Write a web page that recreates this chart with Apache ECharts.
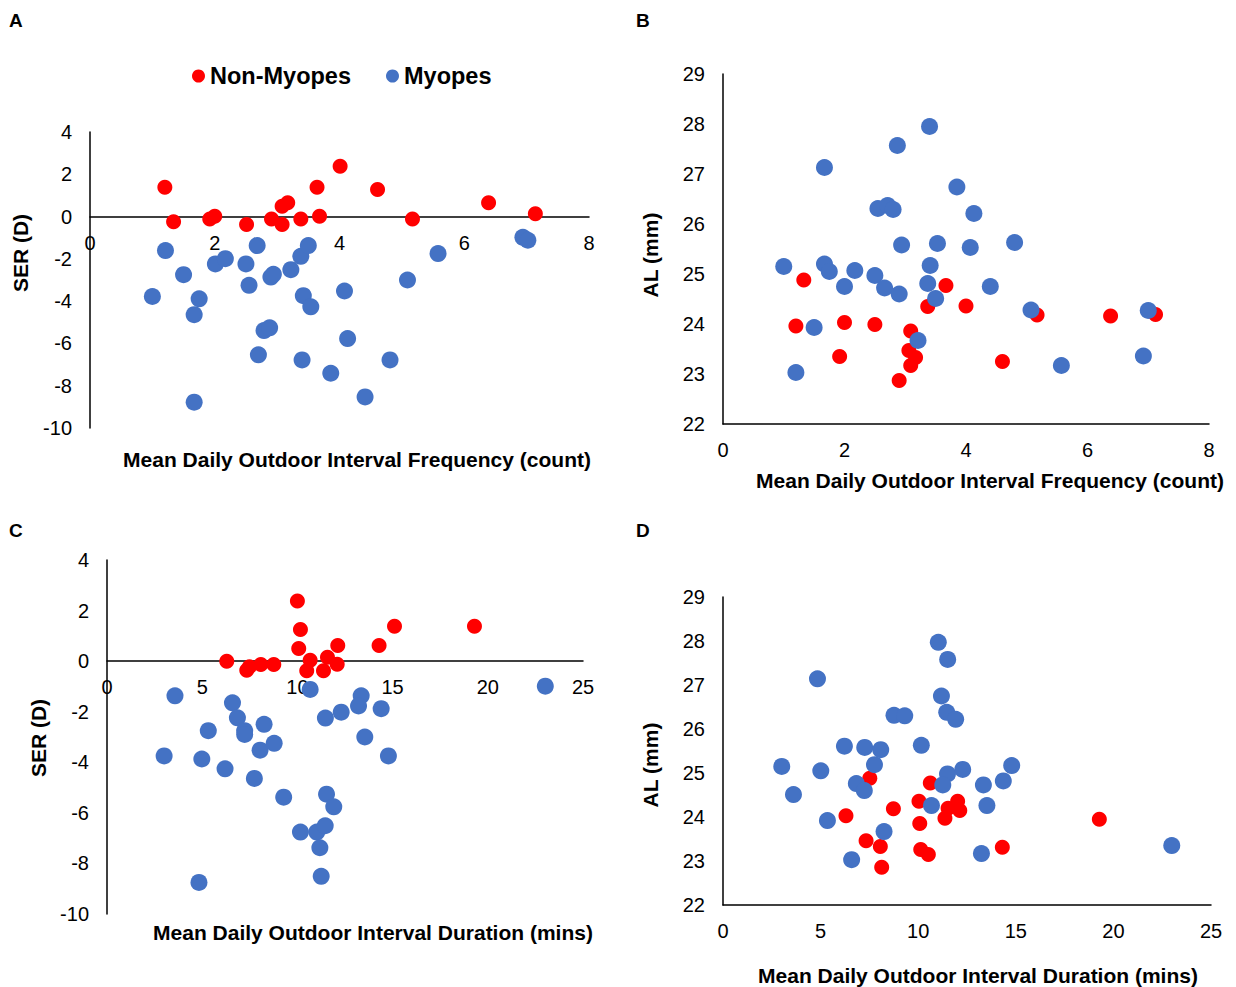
<!DOCTYPE html>
<html><head><meta charset="utf-8">
<script src="https://cdn.jsdelivr.net/npm/echarts@6/dist/echarts.min.js"></script>
<style>html,body{margin:0;padding:0;background:#fff}#c{width:1236px;height:987px}</style>
</head><body><div id="c"></div>
<script>
// Panel A: frequency vs SER
const nonMyopesFreqSER = [[1.20,1.39],[1.34,-0.25],[1.92,-0.11],[2.00,0.02],[2.51,-0.38],[2.91,-0.11],[3.08,-0.38],[3.08,0.49],[3.17,0.65],[3.38,-0.11],[3.64,1.39],[3.68,0.02],[4.01,2.38],[4.61,1.28],[5.17,-0.11],[6.39,0.65],[7.14,0.13]];
const myopesFreqSER = [[1.21,-1.61],[1.50,-2.75],[1.00,-3.78],[1.75,-3.89],[1.67,-4.64],[1.67,-8.78],[2.01,-2.24],[2.17,-1.99],[2.50,-2.24],[2.55,-3.25],[2.68,-1.37],[2.90,-2.86],[2.94,-2.73],[2.79,-5.39],[2.88,-5.26],[2.70,-6.54],[3.22,-2.51],[3.38,-1.88],[3.50,-1.37],[3.42,-3.74],[3.54,-4.27],[3.40,-6.78],[3.86,-7.41],[4.08,-3.52],[4.13,-5.77],[4.41,-8.53],[4.81,-6.78],[5.09,-3.00],[5.58,-1.75],[6.94,-0.98],[7.02,-1.12]];
// Panel B: frequency vs AL
const nonMyopesFreqAL = [[1.33,24.88],[1.20,23.96],[2.00,24.03],[2.50,23.99],[1.92,23.35],[3.09,23.86],[3.06,23.47],[3.17,23.33],[3.09,23.17],[2.90,22.87],[3.37,24.35],[3.67,24.77],[4.00,24.36],[4.60,23.25],[5.17,24.18],[6.38,24.16],[7.12,24.19]];
const myopesFreqAL = [[3.40,27.95],[2.87,27.57],[1.67,27.13],[3.85,26.74],[2.55,26.31],[2.71,26.37],[2.80,26.29],[4.13,26.21],[2.94,25.58],[3.53,25.61],[4.07,25.53],[4.80,25.63],[1.00,25.15],[1.67,25.20],[1.75,25.05],[2.17,25.07],[2.50,24.97],[2.00,24.75],[2.66,24.72],[2.90,24.60],[3.41,25.17],[3.37,24.81],[3.50,24.51],[4.40,24.75],[5.07,24.28],[7.00,24.27],[1.50,23.93],[3.21,23.67],[1.20,23.03],[5.57,23.17],[6.92,23.36]];
// Panel C: duration vs SER
const nonMyopesDurSER = [[10.00,2.38],[10.16,1.25],[10.07,0.50],[15.10,1.38],[19.30,1.38],[12.12,0.62],[14.29,0.62],[6.29,0.00],[7.34,-0.36],[7.48,-0.22],[8.08,-0.13],[8.76,-0.13],[10.67,0.04],[10.49,-0.38],[11.58,0.15],[11.37,-0.38],[12.09,-0.12]];
const myopesDurSER = [[3.57,-1.37],[10.67,-1.12],[23.02,-0.99],[6.59,-1.65],[6.85,-2.24],[7.23,-2.75],[7.23,-2.90],[8.25,-2.50],[5.32,-2.75],[3.00,-3.75],[4.98,-3.87],[6.20,-4.26],[7.74,-4.64],[8.04,-3.52],[8.78,-3.25],[9.28,-5.38],[11.47,-2.25],[12.30,-2.02],[13.35,-1.37],[13.21,-1.77],[14.40,-1.88],[13.54,-3.00],[14.78,-3.75],[11.53,-5.26],[11.91,-5.76],[10.16,-6.76],[11.02,-6.76],[11.46,-6.51],[11.18,-7.38],[11.25,-8.51],[4.83,-8.75]];
// Panel D: duration vs AL
const nonMyopesDurAL = [[7.52,24.88],[10.62,24.77],[10.04,24.36],[12.02,24.36],[11.53,24.20],[12.13,24.15],[11.37,23.97],[8.73,24.19],[6.30,24.03],[10.08,23.85],[7.33,23.46],[8.06,23.33],[10.13,23.26],[10.52,23.15],[8.13,22.86],[14.31,23.31],[19.28,23.95]];
const myopesDurAL = [[11.03,27.97],[11.51,27.58],[4.84,27.14],[11.19,26.75],[8.76,26.31],[9.31,26.30],[11.46,26.38],[11.92,26.22],[6.22,25.61],[7.26,25.58],[8.08,25.53],[10.16,25.63],[3.01,25.15],[5.01,25.05],[7.76,25.19],[11.50,24.98],[12.28,25.08],[14.79,25.17],[6.83,24.76],[7.24,24.60],[11.26,24.73],[13.34,24.73],[14.36,24.82],[3.61,24.51],[10.68,24.26],[13.52,24.26],[5.35,23.92],[8.25,23.67],[6.59,23.03],[13.24,23.17],[22.99,23.35]];

const seriesNames = ['Non-Myopes', 'Myopes'];
const panelLetters = ['A', 'B', 'C', 'D'];
const xTitles = ['Mean Daily Outdoor Interval Frequency (count)', 'Mean Daily Outdoor Interval Frequency (count)', 'Mean Daily Outdoor Interval Duration (mins)', 'Mean Daily Outdoor Interval Duration (mins)'];
const yTitles = ['SER (D)', 'AL (mm)', 'SER (D)', 'AL (mm)'];

const FONT = '"Liberation Sans", Arial, Helvetica, sans-serif';
const RED = '#FF0000', BLUE = '#4472C4';

const grids = [
  {left: 90, top: 132, width: 499, height: 296},
  {left: 723, top: 74, width: 486, height: 350},
  {left: 107, top: 560, width: 476, height: 354},
  {left: 723, top: 597, width: 488, height: 308}
];
const xRanges = [[0, 8, 2], [0, 8, 2], [0, 25, 5], [0, 25, 5]];
const yRanges = [[-10, 4, 2], [22, 29, 1], [-10, 4, 2], [22, 29, 1]];

const labelStyle = {color: '#000', fontSize: 20, fontFamily: FONT};

const xAxes = xRanges.map((r, i) => ({
  type: 'value', gridIndex: i, min: r[0], max: r[1], interval: r[2], offset: 0,
  axisLine: {show: true, onZero: false, lineStyle: {color: '#000', width: 1.5}},
  axisTick: {show: false}, splitLine: {show: false},
  axisLabel: Object.assign({margin: 16, showMinLabel: true, showMaxLabel: true}, labelStyle)
}));
const yAxes = yRanges.map((r, i) => ({
  type: 'value', gridIndex: i, min: r[0], max: r[1], interval: r[2],
  axisLine: {show: true, onZero: false, lineStyle: {color: '#000', width: 1.5}},
  axisTick: {show: false}, splitLine: {show: false},
  axisLabel: Object.assign({margin: 18}, labelStyle)
}));

const panelData = [
  [nonMyopesFreqSER, myopesFreqSER],
  [nonMyopesFreqAL, myopesFreqAL],
  [nonMyopesDurSER, myopesDurSER],
  [nonMyopesDurAL, myopesDurAL]
];
const series = [];
panelData.forEach((pair, i) => {
  series.push({name: seriesNames[0], type: 'scatter', xAxisIndex: i, yAxisIndex: i, data: pair[0],
    symbolSize: 15, itemStyle: {color: RED, opacity: 1}, emphasis: {disabled: true}, z: 2});
  series.push({name: seriesNames[1], type: 'scatter', xAxisIndex: i, yAxisIndex: i, data: pair[1],
    symbolSize: 17, itemStyle: {color: BLUE, opacity: 1}, emphasis: {disabled: true}, z: 3});
});

const letterPos = [[16, 21], [643, 21], [16, 531], [643, 531]];
const xTitlePos = [[357, 459], [990, 480], [373, 932], [978, 975]];
const yTitlePos = [[20, 253], [650, 255], [38, 738], [650, 765]];

const graphics = [];
panelLetters.forEach((t, i) => graphics.push({type: 'text', left: letterPos[i][0] - 7, top: letterPos[i][1] - 10,
  style: {text: t, font: 'bold 19px ' + FONT, fill: '#000'}}));
xTitles.forEach((t, i) => graphics.push({type: 'text', x: xTitlePos[i][0], y: xTitlePos[i][1],
  style: {text: t, font: 'bold 21px ' + FONT, fill: '#000', align: 'center', verticalAlign: 'middle'}}));
yTitles.forEach((t, i) => graphics.push({type: 'text', x: yTitlePos[i][0], y: yTitlePos[i][1], rotation: Math.PI / 2,
  style: {text: t, font: 'bold 21px ' + FONT, fill: '#000', align: 'center', verticalAlign: 'middle'}}));

const chart = echarts.init(document.getElementById('c'), null, {renderer: 'svg'});
chart.setOption({
  animation: false,
  backgroundColor: '#fff',
  grid: grids.map(g => Object.assign({containLabel: false}, g)),
  xAxis: xAxes,
  yAxis: yAxes,
  legend: {
    data: seriesNames, left: 187, top: 59, icon: 'circle', itemWidth: 13, itemHeight: 13, itemGap: 35,
    textStyle: {fontSize: 23.5, fontWeight: 'bold', color: '#000', fontFamily: FONT},
    selectedMode: false
  },
  series: series,
  graphic: graphics
});
// Move the x axes of the SER panels (A, C) so they cross the y axis at zero, as in the reference.
const newX = xAxes.map((ax, i) => {
  const yMin = yRanges[i][0], yMax = yRanges[i][1];
  if (yMin < 0 && yMax > 0) {
    const bottom = grids[i].top + grids[i].height;
    const zeroPx = chart.convertToPixel({yAxisIndex: i}, 0);
    return {offset: zeroPx - bottom};
  }
  return {offset: 0};
});
chart.setOption({xAxis: newX});
</script></body></html>
